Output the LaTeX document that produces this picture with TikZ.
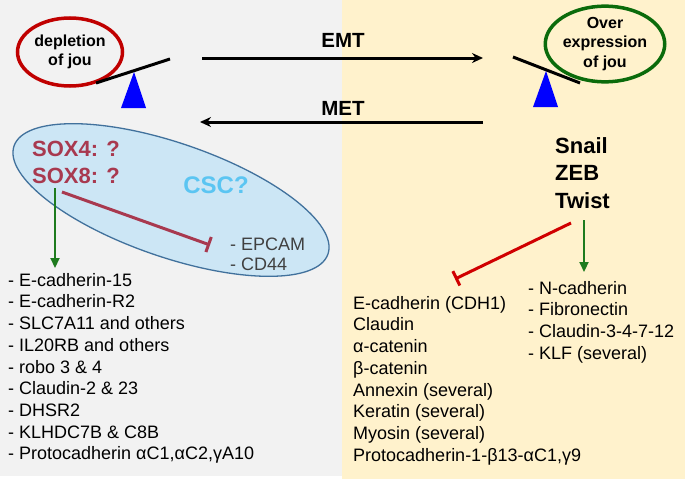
\documentclass[tikz,border=0pt]{standalone}
\usepackage{fontspec}
\setmainfont{Liberation Sans}
\usetikzlibrary{arrows.meta, shapes.geometric}
\definecolor{leftbg}{HTML}{F2F2F2}
\definecolor{rightbg}{HTML}{FFF2CC}
\definecolor{lossred}{HTML}{C00000}
\definecolor{gaingreen}{HTML}{0B6B0B}
\definecolor{pivotblue}{HTML}{0000FF}
\definecolor{cscfill}{HTML}{CCE6F5}
\definecolor{cscedge}{HTML}{41719C}
\definecolor{cscblue}{HTML}{5BC5F2}
\definecolor{soxred}{HTML}{A8394F}
\definecolor{inhred}{HTML}{D00000}
\definecolor{promgreen}{HTML}{1E7B1E}
\definecolor{markergray}{HTML}{404040}
\tikzstyle{bubble} = [ellipse, line width=3.5pt, inner sep=0pt, align=center, font=\bfseries\fontsize{16}{19.5}\selectfont]
\tikzstyle{plank} = [line width=3pt]
\tikzstyle{flow} = [line width=3pt, -{Stealth[length=11pt, width=10pt]}]
\tikzstyle{flowlabel} = [font=\bfseries\fontsize{20.5}{24}\selectfont]
\tikzstyle{genes} = [anchor=north west, inner sep=0pt, align=left, font=\fontsize{18}{21.7}\selectfont]
\tikzstyle{promote} = [draw=promgreen, line width=2.2pt, -{Triangle[length=10pt, width=9pt]}]
\tikzstyle{inhibit} = [line width=3pt, -{Bar[width=16pt, line width=3pt]}]

\begin{document}
\begin{tikzpicture}[x=1pt, y=-1pt]
        \useasboundingbox (0,0) rectangle (685,479);
        \fill[leftbg] (0,0) rectangle (342,476);
        \fill[rightbg] (342,0) rectangle (685,479);
        % balance on the left
        \node (depl) [bubble, draw=lossred, minimum width=105, minimum height=68] at (70,52) {depletion\\of jou};
        \coordinate (plankLa) at (96,83);
        \coordinate (plankLb) at (170,59);
        \draw[plank] (plankLa) -- (plankLb);
        \fill[pivotblue] (134,72) -- (121,108) -- (146,108) -- cycle;
        % balance on the right
        \node (over) [bubble, draw=gaingreen, minimum width=113, minimum height=73] at (605,44) {Over\\expression\\of jou};
        \coordinate (plankRa) at (513,57);
        \coordinate (plankRb) at (580,83);
        \draw[plank] (plankRa) -- (plankRb);
        \fill[pivotblue] (546,71) -- (533,107) -- (558,107) -- cycle;
        % EMT and MET
        \coordinate (emtL) at (202,58);
        \coordinate (emtR) at (483,58);
        \coordinate (metR) at (483,122);
        \coordinate (metL) at (200,122);
        \draw[flow] (emtL) -- (emtR);
        \draw[flow] (metR) -- (metL);
        \node (emt) [flowlabel] at (343,40) {EMT};
        \node (met) [flowlabel] at (343,108) {MET};
        % stem cell side
        \node (csc) [ellipse, draw=cscedge, fill=cscfill, line width=1.3pt, inner sep=0pt, minimum width=332, minimum height=114, rotate=-19] at (171,200) {};
        \node (sox) [anchor=north west, inner sep=0pt, align=left, text=soxred, font=\bfseries\fontsize{22}{27}\selectfont] at (32,141) {SOX4: ?\\SOX8: ?};
        \node (cscq) [text=cscblue, font=\bfseries\fontsize{24}{28}\selectfont] at (216,185) {CSC?};
        \node (markers) [genes, text=markergray, font=\fontsize{18}{20}\selectfont] at (230,238) {- EPCAM\\- CD44};
        \node (soxup) [genes] at (8,273) {- E-cadherin-15\\- E-cadherin-R2\\- SLC7A11 and others\\- IL20RB and others\\- robo 3 \& 4\\- Claudin-2 \& 23\\- DHSR2\\- KLHDC7B \& C8B\\- Protocadherin αC1,αC2,γA10};
        \coordinate (soxA) at (55,188);
        \coordinate (soxB) at (55,268);
        \coordinate (soxC) at (62,192);
        \coordinate (soxD) at (210,245);
        \draw[promote] (soxA) -- (soxB);
        \draw[inhibit, draw=soxred] (soxC) -- (soxD);
        % transcription factors
        \node (tf) [anchor=north west, inner sep=0pt, align=left, font=\bfseries\fontsize{22}{27.5}\selectfont] at (555,137) {Snail\\ZEB\\Twist};
        \node (tfdown) [genes] at (353,296) {E-cadherin (CDH1)\\Claudin\\α-catenin\\β-catenin\\Annexin (several)\\Keratin (several)\\Myosin (several)\\Protocadherin-1-β13-αC1,γ9};
        \node (tfup) [genes] at (528,281) {- N-cadherin\\- Fibronectin\\- Claudin-3-4-7-12\\- KLF (several)};
        \coordinate (tfA) at (584,220);
        \coordinate (tfB) at (584,272);
        \coordinate (tfC) at (571,223);
        \coordinate (tfD) at (455,279);
        \draw[promote] (tfA) -- (tfB);
        \draw[inhibit, draw=inhred] (tfC) -- (tfD);
    \end{tikzpicture}
\end{document}
